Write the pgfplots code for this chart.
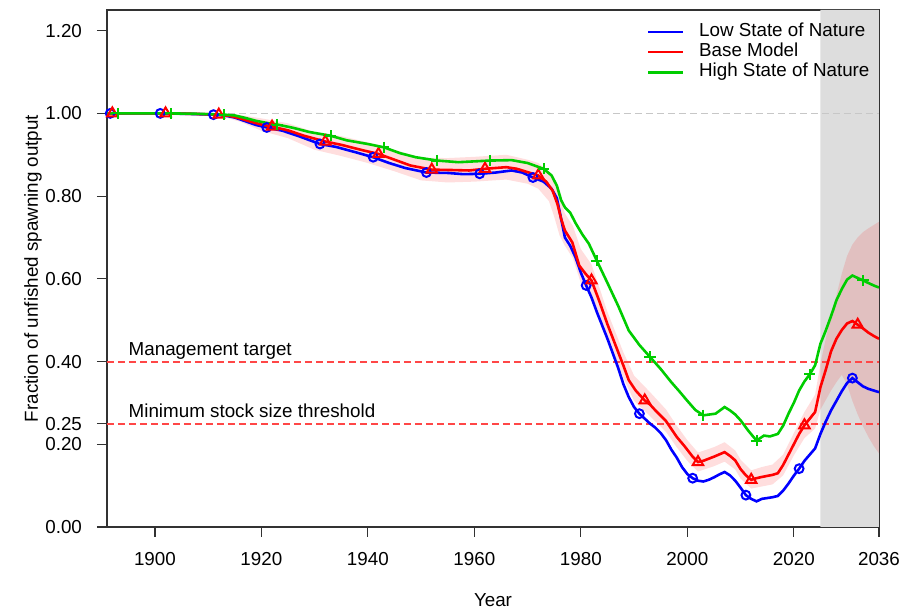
\documentclass[border=0pt]{standalone}
\usepackage{fontspec}
\setmainfont{Liberation Sans}
\usepackage{pgfplots}
\pgfplotsset{compat=1.18}
\definecolor{dgreen}{RGB}{0,205,0}
\definecolor{greyreg}{RGB}{221,221,221}
\definecolor{mgmtred}{rgb}{1.0,0.28,0.28}
\definecolor{lightgreyline}{rgb}{0.78,0.78,0.78}
\definecolor{axgrey}{RGB}{50,50,50}
\newcommand{\fs}{\fontsize{9.4}{11}\selectfont}
\begin{document}
\begin{tikzpicture}
\begin{axis}[
  at={(0,0)}, anchor=south west,
  scale only axis, width=386pt, height=258.5pt,
  xmin=1891, xmax=2036, ymin=0, ymax=1.25,
  axis line style={line width=0.6pt, axgrey},
  tick align=outside, major tick length=5pt,
  tick style={line width=0.6pt, axgrey},
  xtick pos=lower, ytick pos=left,
  xtick={1900,1920,1940,1960,1980,2000,2020,2036},
  xticklabels={1900,1920,1940,1960,1980,2000,2020,2036},
  ytick={0,0.2,0.25,0.4,0.6,0.8,1.0,1.2},
  yticklabels={0.00,0.20,0.25,0.40,0.60,0.80,1.00,1.20},
  ticklabel style={font=\fs},
  xticklabel shift=4pt, yticklabel shift=4pt,
  xlabel={Year}, ylabel={Fraction of unfished spawning output},
  label style={font=\fs},
  xlabel style={at={(axis description cs:0.5,-0.1412)}, anchor=center},
  ylabel style={at={(axis description cs:-0.0959,0.5)}, anchor=center},
  legend cell align=left,
  legend style={at={(rel axis cs:0.6986,0.978)}, anchor=north west, draw=none, fill=none,
    inner sep=0pt, row sep=0pt, column sep=7pt,
    nodes={inner sep=0.4pt, text height=7pt, text depth=2.3pt, font=\fs}},
  legend image code/.code={\draw[#1, line width=1.3pt] (0pt,0pt) -- (17.5pt,0pt);},
]
% forecast region
\addplot[fill=greyreg, draw=none, forget plot] coordinates {(2025,0) (2025,1.25) (2036,1.25) (2036,0)} \closedcycle;

% uncertainty band of base model: upper edge forward, lower edge backward
\addplot[fill=red, fill opacity=0.13, draw=none, forget plot] table {
1891 1.002
1912 1.000
1916 0.996
1920 0.988
1925 0.976
1930 0.955
1935 0.945
1940 0.930
1945 0.912
1950 0.893
1955 0.892
1960 0.895
1966 0.900
1970 0.888
1972 0.880
1974 0.860
1975 0.845
1976 0.800
1977 0.758
1978.5 0.728
1980 0.672
1982 0.635
1983.5 0.578
1985 0.520
1988 0.422
1990 0.366
1993 0.326
1996 0.284
1998 0.245
2000 0.210
2002 0.180
2005 0.193
2007 0.205
2009 0.185
2010 0.163
2012 0.137
2014 0.145
2016 0.151
2018 0.175
2020 0.227
2022 0.278
2024 0.320
2025 0.395
2026 0.455
2027 0.515
2028 0.560
2029 0.612
2030 0.655
2031 0.683
2032 0.700
2033 0.713
2034 0.722
2035 0.730
2036 0.738
2036 0.178
2035 0.196
2034 0.218
2033 0.243
2032 0.272
2031 0.305
2030 0.345
2029 0.368
2028 0.350
2027 0.330
2026 0.307
2025 0.284
2024 0.238
2022 0.215
2020 0.173
2018 0.125
2016 0.103
2014 0.098
2012 0.093
2010 0.117
2009 0.139
2007 0.158
2005 0.147
2002 0.134
2000 0.160
1998 0.193
1996 0.230
1993 0.268
1990 0.305
1988 0.360
1985 0.460
1983.5 0.512
1982 0.560
1980 0.590
1978.5 0.650
1977 0.680
1976 0.705
1975 0.750
1974 0.788
1972 0.818
1970 0.830
1966 0.840
1960 0.835
1955 0.833
1950 0.838
1945 0.860
1940 0.880
1935 0.897
1930 0.912
1925 0.940
1920 0.958
1916 0.980
1912 0.994
1891 0.998
} -- cycle;

% reference lines
\addplot[draw=lightgreyline, line width=0.8pt, dash pattern=on 3.4pt off 2.1pt, forget plot] coordinates {(1891,1) (2036,1)};
\addplot[draw=mgmtred, line width=1pt, dash pattern=on 3.4pt off 2.1pt, forget plot] coordinates {(1891,0.4) (2036,0.4)};
\addplot[draw=mgmtred, line width=1pt, dash pattern=on 3.4pt off 2.1pt, forget plot] coordinates {(1891,0.25) (2036,0.25)};
\node[anchor=base west, inner sep=0pt, font=\fs] at (axis cs:1895,0.415) {Management target};
\node[anchor=base west, inner sep=0pt, font=\fs] at (axis cs:1895,0.265) {Minimum stock size threshold};

% Low state of nature
\addplot[color=blue, line width=1.3pt, forget plot] table {
1891 1.000
1896 1.000
1901 1.000
1906 0.999
1911 0.997
1913 0.995
1915 0.990
1917 0.981
1919 0.972
1921 0.966
1924 0.958
1927 0.945
1931 0.926
1934 0.919
1938 0.905
1941 0.894
1944 0.880
1947 0.868
1951 0.857
1955 0.856
1958 0.853
1961 0.854
1964 0.857
1967 0.862
1969 0.857
1971 0.845
1973 0.835
1974.5 0.818
1975.5 0.795
1976.3 0.745
1977 0.700
1978 0.680
1979 0.652
1980 0.615
1981 0.584
1982 0.555
1983 0.520
1985 0.455
1987 0.385
1988 0.345
1989 0.314
1990 0.290
1991 0.274
1992 0.262
1993 0.250
1994 0.240
1995 0.227
1996 0.210
1997 0.187
1998 0.168
1999 0.145
2000 0.128
2001 0.118
2002 0.112
2003 0.110
2004 0.114
2005 0.120
2006 0.127
2007 0.133
2008 0.125
2009 0.112
2010 0.095
2011 0.077
2012 0.068
2013 0.062
2014 0.068
2015 0.070
2016 0.072
2017 0.075
2018 0.088
2019 0.105
2020 0.124
2021 0.141
2022 0.160
2023 0.175
2024 0.190
2025 0.225
2026 0.255
2027 0.282
2028 0.305
2029 0.328
2030 0.348
2031 0.360
2032 0.350
2033 0.340
2034 0.334
2035 0.330
2036 0.326
};
% Base model
\addplot[color=red, line width=1.3pt, forget plot] table {
1891 1.000
1896 1.000
1902 1.000
1907 0.999
1912 0.997
1914 0.994
1916 0.988
1918 0.980
1920 0.973
1922 0.968
1925 0.959
1928 0.946
1932 0.932
1935 0.924
1939 0.911
1942 0.902
1945 0.888
1948 0.874
1952 0.864
1956 0.863
1959 0.862
1962 0.866
1966 0.870
1968 0.866
1970 0.858
1972 0.850
1973.5 0.835
1974.7 0.813
1975.6 0.781
1976.3 0.745
1977 0.717
1978.4 0.688
1979.7 0.632
1980.9 0.612
1982 0.596
1983.5 0.545
1985 0.490
1986.5 0.440
1988 0.390
1989 0.355
1990.3 0.330
1992 0.306
1993 0.296
1994 0.282
1996 0.256
1998 0.218
1999.5 0.195
2001 0.170
2002 0.157
2003 0.160
2005 0.170
2007 0.181
2008 0.172
2009 0.161
2010 0.140
2011 0.125
2012 0.114
2013 0.118
2014 0.121
2016 0.126
2017 0.130
2018 0.150
2019 0.175
2020 0.200
2021 0.225
2022 0.246
2023 0.262
2024 0.278
2025 0.338
2026 0.380
2027 0.425
2028 0.455
2029 0.476
2030 0.492
2031 0.498
2032 0.489
2033 0.480
2034 0.470
2035 0.462
2036 0.455
};
% High state of nature
\addplot[color=dgreen, line width=1.3pt, forget plot] table {
1891 1.000
1897 1.000
1903 1.000
1908 0.999
1913 0.997
1915 0.995
1917 0.989
1919 0.982
1921 0.977
1923 0.973
1926 0.965
1929 0.955
1933 0.946
1936 0.935
1940 0.926
1943 0.918
1946 0.904
1949 0.894
1953 0.886
1957 0.882
1960 0.884
1963 0.886
1967 0.887
1970 0.880
1973 0.866
1974.5 0.850
1975.5 0.825
1976.3 0.790
1977 0.773
1978 0.760
1979 0.735
1980.3 0.707
1981.5 0.685
1983 0.644
1985 0.590
1987 0.535
1989 0.475
1991 0.440
1993 0.411
1995 0.382
1997 0.350
1998.5 0.328
2000 0.305
2001.5 0.283
2003 0.270
2005.3 0.274
2007 0.290
2008 0.282
2009 0.272
2010 0.258
2011.5 0.232
2013 0.209
2014.4 0.221
2015.5 0.219
2017 0.225
2018 0.245
2019 0.274
2020 0.300
2021 0.330
2022 0.352
2023 0.369
2024 0.391
2025 0.443
2026 0.475
2027 0.510
2028 0.548
2029 0.575
2030 0.598
2031 0.608
2032 0.602
2033 0.596
2034 0.590
2035 0.584
2036 0.579
};

% markers
\addplot[only marks, color=blue, mark=o, mark size=2.2pt, line width=1pt, forget plot] coordinates {
(1891.6,1.0) (1901,1.0) (1911,0.997) (1921,0.966) (1931,0.926) (1941,0.894) (1951,0.857) (1961,0.854) (1971,0.845) (1981,0.584) (1991,0.274) (2001,0.118) (2011,0.077) (2021,0.141) (2031,0.360)};
\addplot[only marks, color=red, mark=triangle, mark size=3pt, line width=1pt, forget plot] coordinates {
(1892,1.0) (1902,1.0) (1912,0.997) (1922,0.968) (1932,0.932) (1942,0.902) (1952,0.864) (1962,0.866) (1972,0.850) (1982,0.596) (1992,0.306) (2002,0.157) (2012,0.114) (2022,0.246) (2032,0.489)};
\addplot[only marks, color=dgreen, mark=+, mark size=2.8pt, line width=1pt, forget plot] coordinates {
(1893,1.0) (1903,1.0) (1913,0.997) (1923,0.973) (1933,0.946) (1943,0.918) (1953,0.886) (1963,0.886) (1973,0.866) (1983,0.644) (1993,0.411) (2003,0.270) (2013,0.209) (2023,0.369) (2033,0.596)};

\addlegendimage{color=blue}
\addlegendentry{Low State of Nature}
\addlegendimage{color=red}
\addlegendentry{Base Model}
\addlegendimage{color=dgreen}
\addlegendentry{High State of Nature}
\end{axis}
\pgfresetboundingbox
\path[use as bounding box] (-53.5pt,-42pt) rectangle (400pt,263.5pt);
\end{tikzpicture}
\end{document}
